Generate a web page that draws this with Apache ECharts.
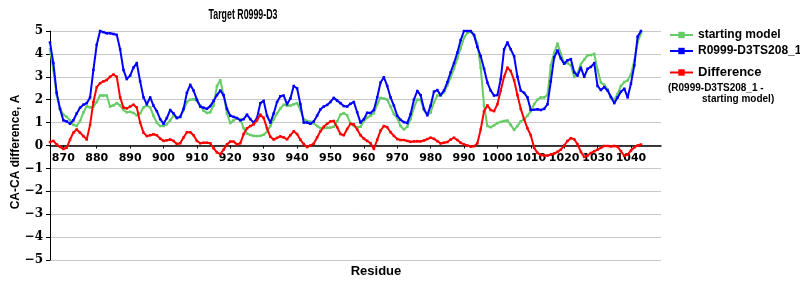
<!DOCTYPE html>
<html>
<head>
<meta charset="utf-8">
<script src="https://cdn.jsdelivr.net/npm/echarts@6/dist/echarts.min.js"></script>
<style>html,body{margin:0;padding:0;background:#fff}#c{width:800px;height:300px}</style>
</head>
<body>
<div id="c"></div>
<script>
const firstResidue = 866;
const xTicks = [870,880,890,900,910,920,930,940,950,960,970,980,990,1000,1010,1020,1030,1040];
const yTicks = [-5,-4,-3,-2,-1,0,1,2,3,4,5];
const seriesNames = ['starting model', 'R0999-D3TS208_1', 'Difference'];
const titleText = 'Target R0999-D3';
const xName = 'Residue';
const yName = 'CA-CA difference, A';

const startingModel = [
  4.2,3.3,2.2,1.6,1.35,1.25,1.1,0.9,0.85,1.07,
  1.44,1.72,1.66,1.7,1.9,2.18,2.18,2.18,1.7,1.75,
  1.85,1.75,1.55,1.45,1.47,1.42,1.32,1.4,1.66,1.74,
  1.66,1.3,1.0,0.85,0.85,0.93,1.1,1.3,1.2,1.25,
  1.55,1.9,2.0,2.02,1.95,1.75,1.52,1.42,1.45,1.75,
  2.6,2.85,2.2,1.4,0.98,1.1,1.18,1.15,0.75,0.52,
  0.46,0.42,0.41,0.42,0.47,0.6,0.85,1.15,1.4,1.62,
  1.78,1.74,1.74,1.8,1.85,1.55,1.15,1.07,1.04,0.97,
  0.85,0.76,0.76,0.78,0.78,0.82,1.05,1.35,1.41,1.32,
  0.95,0.85,0.8,0.82,1.07,1.22,1.3,1.41,1.8,2.08,
  2.05,2.0,1.7,1.37,1.2,0.85,0.7,0.82,1.15,1.65,
  2.0,2.0,1.55,1.33,1.44,1.88,2.18,2.18,2.32,2.62,
  2.98,3.35,3.8,4.25,4.7,4.92,4.96,4.85,4.45,3.4,
  1.74,0.85,0.8,0.88,0.98,1.03,1.07,1.09,0.9,0.68,
  0.85,1.05,1.15,1.3,1.5,1.8,2.0,2.1,2.1,2.2,
  3.5,4.05,4.45,4.0,3.6,3.6,3.5,2.99,3.15,3.55,
  3.75,3.94,3.95,4.0,3.3,2.75,2.65,2.45,2.1,2.0,
  2.25,2.6,2.77,2.84,3.1,3.7,4.5,4.9
];

const targetModel = [
  4.5,3.6,2.3,1.6,1.1,1.05,0.95,1.1,1.4,1.65,
  1.78,1.85,2.1,3.3,4.4,5.0,4.95,4.9,4.9,4.87,
  4.83,4.2,3.3,2.9,3.05,3.4,3.6,2.8,2.1,1.8,
  2.1,1.74,1.5,1.15,0.95,1.2,1.55,1.4,1.2,1.25,
  1.6,2.3,2.65,2.4,2.0,1.7,1.65,1.6,1.72,1.95,
  2.2,2.4,2.2,1.6,1.3,1.25,1.2,1.1,1.15,1.35,
  1.15,1.0,1.2,1.85,1.95,1.3,1.0,1.4,1.9,2.15,
  2.18,1.8,2.05,2.6,2.5,1.8,1.0,1.0,0.95,1.05,
  1.3,1.58,1.7,1.77,1.9,2.08,1.96,1.85,1.72,1.7,
  1.82,1.9,1.45,1.0,1.15,1.43,1.42,1.55,2.1,2.75,
  2.98,2.6,2.1,1.74,1.3,1.12,1.02,0.98,1.37,2.0,
  2.38,2.2,1.6,1.32,1.74,2.35,2.42,2.2,2.4,2.76,
  3.2,3.6,4.05,4.6,5.0,5.0,5.0,4.82,4.3,3.9,
  3.35,2.75,2.4,2.18,2.2,2.9,4.2,4.5,4.2,3.9,
  3.0,2.4,2.3,2.1,1.55,1.56,1.58,1.55,1.6,1.8,
  2.8,3.85,4.15,3.8,3.57,3.72,3.77,3.2,3.05,3.4,
  3.0,3.35,3.43,3.6,2.6,2.42,2.55,2.4,2.12,1.85,
  2.1,2.35,2.48,2.1,2.7,3.5,4.75,5.0
];

const difference = [
  0.15,0.2,0.05,-0.06,-0.15,-0.1,0.26,0.56,0.7,0.56,
  0.41,0.26,0.9,1.9,2.55,2.72,2.8,2.86,3.0,3.1,
  3.0,2.1,1.66,1.62,1.7,1.78,1.66,1.0,0.56,0.41,
  0.45,0.49,0.45,0.3,0.2,0.23,0.26,0.2,0.07,0.1,
  0.35,0.58,0.58,0.45,0.2,0.1,0.12,0.12,0.1,-0.12,
  -0.3,-0.38,-0.18,0.05,0.17,0.17,0.05,0.1,0.5,0.75,
  0.85,0.92,1.1,1.35,1.2,0.75,0.38,0.26,0.33,0.4,
  0.35,0.27,0.45,0.62,0.5,0.25,0.06,-0.07,0.0,0.08,
  0.35,0.62,0.82,0.95,1.05,1.07,0.8,0.5,0.45,0.72,
  0.95,0.92,0.7,0.45,0.3,0.2,0.1,-0.15,0.25,0.65,
  0.85,0.8,0.58,0.42,0.28,0.24,0.24,0.2,0.16,0.18,
  0.19,0.18,0.22,0.28,0.34,0.29,0.19,0.09,0.12,0.15,
  0.26,0.34,0.24,0.12,0.05,0.0,-0.05,-0.03,0.1,0.7,
  1.5,1.75,1.55,1.5,1.8,2.4,3.0,3.4,3.25,2.85,
  2.2,1.6,1.15,0.75,0.45,-0.1,-0.32,-0.42,-0.44,-0.44,
  -0.4,-0.35,-0.28,-0.18,0.0,0.2,0.32,0.27,0.05,-0.28,
  -0.5,-0.44,-0.33,-0.25,-0.18,-0.1,-0.02,-0.02,-0.04,-0.02,
  -0.05,-0.25,-0.45,-0.4,-0.22,-0.08,0.0,0.04
];

function pairs(arr) { return arr.map((v, i) => [firstResidue + i, v]); }

const colors = ['#66cc66', '#0000ff', '#ff0000'];
const chart = echarts.init(document.getElementById('c'), null, {renderer: 'canvas'});

function mkSeries(name, arr, color, z) {
  return {
    name: name, type: 'line', data: pairs(arr), z: z,
    symbol: 'rect', symbolSize: 2.5, showSymbol: true,
    itemStyle: {color: color},
    lineStyle: {color: color, width: 2},
    emphasis: {disabled: true},
    animation: false
  };
}

const gridTop = 31, gridBottom = 40, chartH = 300;
const zeroOffset = -((chartH - gridBottom) - (gridTop + (chartH - gridTop - gridBottom) / 2));

chart.setOption({
  animation: false,
  legend: [
    {
      data: [seriesNames[0], seriesNames[1]], orient: 'vertical', left: 669, top: 28, padding: 0,
      itemWidth: 23, itemHeight: 8, itemGap: 2,
      textStyle: {fontFamily: 'Liberation Sans', fontWeight: 'bold', fontSize: 12, color: '#000', lineHeight: 14}
    },
    {
      data: [seriesNames[2]], orient: 'vertical', left: 669, top: 66, padding: 0,
      itemWidth: 23, itemHeight: 8,
      textStyle: {fontFamily: 'Liberation Sans', fontWeight: 'bold', fontSize: 13, color: '#000'}
    }
  ],
  graphic: [
    {type: 'text', x: 243, y: 15, scaleX: 0.63,
      style: {text: titleText, font: 'bold 14px "Liberation Sans"', fill: '#000', align: 'center', verticalAlign: 'middle'}},
    {type: 'text', x: 16, y: 152, rotation: Math.PI / 2,
      style: {text: yName, font: 'bold 12px "Liberation Sans"', fill: '#000', align: 'center', verticalAlign: 'middle'}},
    {type: 'text', x: 376, y: 271,
      style: {text: xName, font: 'bold 13px "Liberation Sans"', fill: '#000', align: 'center', verticalAlign: 'middle'}},
    {type: 'text', left: 668, top: 83, style: {text: '(R0999-D3TS208_1 -', font: 'bold 10px "Liberation Sans"', fill: '#000'}},
    {type: 'text', left: 702, top: 94, style: {text: 'starting model)', font: 'bold 10px "Liberation Sans"', fill: '#000'}}
  ],
  grid: {left: 50, right: 139, top: gridTop, bottom: gridBottom, outerBoundsMode: 'none', containLabel: false},
  xAxis: {
    type: 'value', min: 866, max: 1049, position: 'bottom', offset: zeroOffset,
    axisLine: {onZero: false, lineStyle: {color: '#000', width: 1.5}},
    axisTick: {show: true, length: 3, customValues: xTicks, lineStyle: {color: '#000'}},
    axisLabel: {customValues: xTicks, margin: 7, hideOverlap: false, fontFamily: 'DejaVu Sans', fontWeight: 'bold', fontSize: 11, color: '#000',
      formatter: v => String(v)},
    splitLine: {show: false}
  },
  yAxis: {
    type: 'value', min: -5, max: 5, interval: 1,
    axisLine: {show: true, onZero: false, lineStyle: {color: '#000', width: 1}},
    axisTick: {show: true, length: 4, lineStyle: {color: '#000'}},
    axisLabel: {
      margin: 7, fontFamily: 'DejaVu Serif', fontWeight: 'bold', fontSize: 12, color: '#000',
      formatter: v => (yTicks.indexOf(v) >= 0 ? String(v).replace('-', '\u2212') : '')
    },
    splitLine: {show: true, showMinLine: true, showMaxLine: true, lineStyle: {color: '#c8c8c8', width: 1}}
  },
  series: [
    mkSeries(seriesNames[0], startingModel, colors[0], 2),
    mkSeries(seriesNames[1], targetModel, colors[1], 3),
    mkSeries(seriesNames[2], difference, colors[2], 4)
  ]
});
</script>
</body>
</html>
